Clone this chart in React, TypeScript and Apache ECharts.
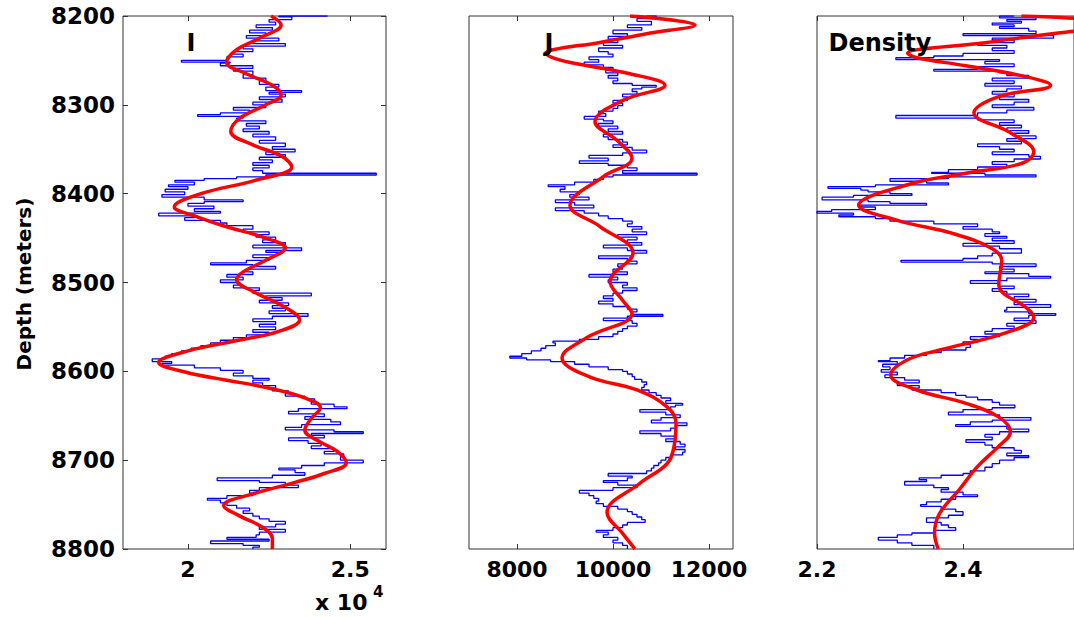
import React, { useEffect, useRef } from "react";
import * as echarts from "echarts";

// ---------- axis ticks ----------
const depthTicks = [8200, 8300, 8400, 8500, 8600, 8700, 8800];
const iTicks = [2, 2.5]; // x 10^4
const jTicks = [8000, 10000, 12000];
const densityTicks = [2.2, 2.4];

const panelTitles = ["I", "J", "Density"];
const depthLabel = "Depth (meters)";

// ---------- data: [depth, value] ----------
// I log (values in units of 10^4)
const iBlue: number[][] = [
  [8200, 2.43], [8201, 2.28], [8204, 2.32], [8207, 2.25], [8210, 2.27], [8213, 2.21], [8216, 2.26],
  [8219, 2.19], [8222, 2.24], [8225, 2.18], [8228, 2.28], [8231, 2.2], [8234, 2.3], [8237, 2.17],
  [8240, 2.2], [8243, 2.14], [8246, 2.17], [8250, 2.12], [8252, 1.98], [8253, 2.13], [8256, 2.1],
  [8259, 2.2], [8262, 2.14], [8266, 2.2], [8270, 2.17], [8273, 2.24], [8277, 2.22], [8280, 2.28],
  [8284, 2.24], [8286, 2.35], [8288, 2.25], [8291, 2.3], [8294, 2.22], [8297, 2.29], [8300, 2.2],
  [8303, 2.24], [8306, 2.14], [8309, 2.19], [8311, 2.1], [8313, 2.03], [8315, 2.17], [8318, 2.15],
  [8321, 2.24], [8324, 2.18], [8327, 2.22], [8330, 2.17], [8333, 2.25], [8336, 2.2], [8340, 2.27],
  [8343, 2.22], [8347, 2.3], [8350, 2.26], [8353, 2.33], [8356, 2.24], [8359, 2.3], [8362, 2.22],
  [8365, 2.26], [8368, 2.2], [8371, 2.25], [8374, 2.2], [8377, 2.23], [8379, 2.58], [8381, 2.24],
  [8383, 2.15], [8385, 2.05], [8387, 1.96], [8390, 2.02], [8392, 1.94], [8395, 2.0], [8398, 1.93],
  [8401, 1.99], [8404, 1.92], [8407, 2.05], [8409, 2.17], [8411, 2.05], [8414, 2.0], [8417, 2.08],
  [8420, 2.02], [8422, 2.1], [8425, 1.91], [8427, 2.02], [8430, 1.99], [8433, 2.1], [8436, 2.12],
  [8440, 2.2], [8443, 2.17], [8446, 2.25], [8449, 2.21], [8452, 2.27], [8455, 2.23], [8458, 2.3],
  [8461, 2.2], [8464, 2.35], [8466, 2.24], [8469, 2.28], [8472, 2.2], [8475, 2.25], [8478, 2.18],
  [8480, 2.07], [8482, 2.2], [8485, 2.27], [8488, 2.18], [8491, 2.2], [8494, 2.12], [8497, 2.17],
  [8500, 2.1], [8503, 2.16], [8506, 2.14], [8509, 2.22], [8512, 2.2], [8515, 2.38], [8517, 2.24],
  [8520, 2.29], [8523, 2.22], [8526, 2.31], [8529, 2.26], [8532, 2.3], [8535, 2.25], [8538, 2.37],
  [8541, 2.26], [8544, 2.2], [8547, 2.27], [8550, 2.22], [8553, 2.27], [8556, 2.2], [8559, 2.25],
  [8562, 2.18], [8565, 2.14], [8568, 2.1], [8571, 2.07], [8574, 2.04], [8577, 2.01], [8580, 1.98],
  [8583, 1.95], [8586, 1.93], [8589, 1.89], [8591, 1.95], [8593, 1.92], [8596, 2.02], [8599, 2.1],
  [8602, 2.17], [8605, 2.14], [8608, 2.2], [8610, 2.25], [8613, 2.2], [8616, 2.23], [8619, 2.27],
  [8622, 2.26], [8625, 2.31], [8628, 2.3], [8631, 2.36], [8634, 2.39], [8637, 2.38], [8640, 2.45],
  [8642, 2.49], [8645, 2.34], [8648, 2.31], [8651, 2.42], [8654, 2.36], [8657, 2.44], [8660, 2.47],
  [8663, 2.35], [8666, 2.3], [8668, 2.45], [8670, 2.54], [8672, 2.38], [8675, 2.42], [8678, 2.31],
  [8681, 2.37], [8684, 2.41], [8687, 2.38], [8690, 2.45], [8693, 2.42], [8696, 2.48], [8700, 2.47],
  [8703, 2.54], [8706, 2.42], [8709, 2.35], [8711, 2.28], [8714, 2.33], [8717, 2.36], [8720, 2.26],
  [8723, 2.09], [8725, 2.22], [8728, 2.3], [8731, 2.34], [8734, 2.22], [8737, 2.19], [8740, 2.2],
  [8743, 2.12], [8745, 2.06], [8748, 2.1], [8751, 2.12], [8754, 2.15], [8757, 2.19], [8760, 2.17],
  [8763, 2.2], [8766, 2.22], [8769, 2.25], [8772, 2.3], [8775, 2.27], [8778, 2.22], [8781, 2.3],
  [8784, 2.22], [8787, 2.21], [8789, 2.12], [8791, 2.25], [8794, 2.07], [8796, 2.17], [8798, 2.22],
  [8800, 2.2],
];
const iRed: number[][] = [
  [8200, 2.256], [8210, 2.287], [8225, 2.22], [8238, 2.15], [8252, 2.119], [8265, 2.18], [8278, 2.26],
  [8289, 2.287], [8300, 2.24], [8315, 2.16], [8330, 2.132], [8345, 2.2], [8358, 2.29], [8370, 2.32],
  [8385, 2.207], [8400, 2.04], [8415, 1.958], [8425, 2.02], [8437, 2.116], [8450, 2.24], [8461, 2.3],
  [8475, 2.24], [8488, 2.17], [8497, 2.15], [8510, 2.2], [8528, 2.3], [8542, 2.344], [8555, 2.28],
  [8565, 2.156], [8577, 2.0], [8590, 1.91], [8601, 1.994], [8610, 2.12], [8618, 2.238], [8630, 2.36],
  [8641, 2.408], [8653, 2.38], [8666, 2.36], [8680, 2.41], [8690, 2.46], [8703, 2.488], [8715, 2.42],
  [8725, 2.33], [8738, 2.2], [8751, 2.11], [8763, 2.16], [8775, 2.227], [8788, 2.26], [8800, 2.26],
];

// J log
const jBlue: number[][] = [
  [8200, 10700], [8203, 10900], [8206, 10500], [8210, 10800], [8213, 10300], [8216, 10600], [8220, 10000],
  [8223, 10300], [8226, 9900], [8230, 10100], [8233, 9800], [8236, 10200], [8240, 9700], [8243, 9900],
  [8246, 10000], [8249, 9500], [8252, 9700], [8255, 9400], [8258, 9800], [8261, 10000], [8264, 9850],
  [8267, 10100], [8270, 9900], [8273, 10100], [8276, 10000], [8278, 10400], [8280, 10900], [8282, 10600],
  [8285, 10400], [8288, 10500], [8291, 10200], [8295, 10300], [8298, 10000], [8301, 10200], [8304, 10100],
  [8307, 10000], [8310, 9700], [8313, 9850], [8316, 9400], [8318, 9800], [8321, 10000], [8324, 9700],
  [8327, 10100], [8330, 9900], [8333, 10200], [8336, 9800], [8339, 9900], [8342, 10200], [8345, 10300],
  [8348, 10000], [8351, 10400], [8354, 10700], [8357, 10200], [8360, 9500], [8363, 9900], [8366, 9300],
  [8368, 9900], [8371, 10300], [8374, 10500], [8377, 10200], [8379, 11750], [8381, 10000], [8384, 9800],
  [8387, 9600], [8390, 9200], [8392, 8650], [8395, 9000], [8398, 8900], [8401, 9300], [8404, 9100],
  [8407, 9500], [8410, 8800], [8413, 9200], [8416, 9600], [8419, 8800], [8422, 9400], [8425, 9700],
  [8428, 9900], [8431, 10200], [8434, 10400], [8437, 10300], [8440, 10600], [8443, 10400], [8446, 10700],
  [8449, 10100], [8452, 10500], [8455, 10300], [8458, 10600], [8461, 9800], [8464, 10300], [8467, 10700],
  [8470, 10400], [8473, 9700], [8476, 10300], [8479, 10500], [8482, 10100], [8485, 10200], [8488, 10000],
  [8491, 10300], [8494, 9500], [8497, 10100], [8500, 9900], [8503, 10300], [8506, 10200], [8509, 10500],
  [8512, 10200], [8515, 10000], [8518, 9800], [8521, 10000], [8524, 9700], [8527, 10000], [8530, 10300],
  [8533, 10500], [8536, 10400], [8538, 11040], [8540, 10300], [8543, 9800], [8546, 10400], [8549, 10500],
  [8552, 10300], [8555, 10200], [8558, 10100], [8561, 10000], [8564, 9700], [8566, 9300], [8568, 8750],
  [8571, 8800], [8574, 8600], [8577, 8500], [8580, 8300], [8583, 8100], [8585, 7850], [8587, 8200],
  [8589, 8700], [8592, 9200], [8595, 9500], [8598, 9900], [8600, 10200], [8603, 10300], [8606, 10400],
  [8609, 10450], [8612, 10600], [8615, 10700], [8618, 10650], [8621, 10600], [8624, 10750], [8627, 10900],
  [8630, 11000], [8633, 11200], [8636, 11100], [8638, 11450], [8640, 11300], [8643, 11200], [8646, 10560],
  [8649, 11100], [8652, 11400], [8655, 11000], [8658, 10800], [8661, 11540], [8664, 11300], [8667, 11200],
  [8670, 10560], [8673, 11000], [8676, 11300], [8679, 11100], [8682, 11400], [8685, 11500], [8688, 11300],
  [8691, 11500], [8694, 11450], [8697, 11200], [8700, 11100], [8703, 11000], [8706, 10950], [8709, 10850],
  [8712, 10800], [8715, 10700], [8718, 9900], [8720, 10400], [8723, 10300], [8725, 9800], [8728, 10100],
  [8731, 10500], [8734, 10000], [8737, 9300], [8740, 9500], [8743, 9600], [8746, 9700], [8749, 9650],
  [8752, 9800], [8755, 10100], [8758, 10300], [8761, 10400], [8764, 10500], [8767, 10600], [8770, 10670],
  [8773, 10300], [8776, 10200], [8779, 10000], [8781, 9650], [8784, 9900], [8787, 9800], [8790, 10100],
  [8793, 10000], [8796, 10200], [8800, 10300],
];
const jRed: number[][] = [
  [8200, 10354], [8210, 11708], [8220, 10700], [8230, 9700], [8238, 8750], [8242, 8600], [8248, 8800],
  [8253, 9167], [8265, 10354], [8278, 11083], [8295, 10208], [8319, 9625], [8340, 10083], [8360, 10396],
  [8381, 9792], [8413, 9104], [8437, 9729], [8467, 10417], [8499, 9938], [8520, 10200], [8535, 10396],
  [8562, 9458], [8585, 8938], [8606, 9500], [8621, 10500], [8640, 11125], [8658, 11313], [8685, 11270],
  [8704, 11125], [8726, 10562], [8759, 9875], [8783, 10208], [8800, 10458],
];

// Density log
const densityBlue: number[][] = [
  [8200, 2.47], [8202, 2.45], [8204, 2.5], [8206, 2.46], [8208, 2.48], [8210, 2.44], [8212, 2.47],
  [8214, 2.45], [8217, 2.49], [8220, 2.5], [8222, 2.4], [8225, 2.524], [8227, 2.44], [8230, 2.47],
  [8233, 2.42], [8236, 2.46], [8239, 2.44], [8242, 2.47], [8245, 2.4], [8247, 2.36], [8249, 2.308],
  [8251, 2.45], [8254, 2.43], [8257, 2.47], [8260, 2.42], [8262, 2.36], [8264, 2.45], [8267, 2.46],
  [8270, 2.49], [8273, 2.44], [8276, 2.47], [8279, 2.43], [8282, 2.48], [8285, 2.46], [8288, 2.44],
  [8291, 2.47], [8294, 2.45], [8297, 2.49], [8300, 2.47], [8303, 2.44], [8306, 2.497], [8309, 2.46],
  [8312, 2.42], [8315, 2.308], [8317, 2.42], [8320, 2.47], [8323, 2.45], [8326, 2.48], [8329, 2.46],
  [8332, 2.49], [8335, 2.47], [8338, 2.5], [8341, 2.46], [8344, 2.48], [8347, 2.42], [8350, 2.45],
  [8353, 2.47], [8356, 2.44], [8358, 2.49], [8361, 2.506], [8364, 2.47], [8367, 2.44], [8370, 2.46],
  [8373, 2.42], [8376, 2.38], [8377, 2.357], [8379, 2.43], [8381, 2.5], [8383, 2.38], [8386, 2.3],
  [8388, 2.35], [8390, 2.38], [8392, 2.28], [8394, 2.215], [8396, 2.26], [8398, 2.27], [8400, 2.3],
  [8402, 2.33], [8404, 2.25], [8407, 2.207], [8409, 2.27], [8411, 2.3], [8413, 2.35], [8415, 2.26],
  [8418, 2.28], [8420, 2.22], [8422, 2.2], [8424, 2.25], [8426, 2.23], [8428, 2.28], [8431, 2.3],
  [8434, 2.36], [8437, 2.42], [8440, 2.4], [8443, 2.44], [8445, 2.45], [8448, 2.43], [8450, 2.46],
  [8453, 2.44], [8456, 2.47], [8459, 2.4], [8462, 2.45], [8465, 2.48], [8467, 2.48], [8470, 2.44],
  [8473, 2.42], [8475, 2.4], [8477, 2.315], [8479, 2.44], [8482, 2.5], [8485, 2.45], [8488, 2.47],
  [8490, 2.43], [8493, 2.49], [8495, 2.52], [8498, 2.46], [8501, 2.41], [8504, 2.45], [8507, 2.47],
  [8510, 2.44], [8513, 2.46], [8516, 2.49], [8519, 2.47], [8522, 2.5], [8525, 2.47], [8528, 2.52],
  [8531, 2.46], [8533, 2.457], [8535, 2.49], [8537, 2.527], [8540, 2.49], [8543, 2.47], [8546, 2.5],
  [8549, 2.46], [8552, 2.47], [8555, 2.44], [8558, 2.43], [8561, 2.45], [8564, 2.41], [8567, 2.42],
  [8570, 2.4], [8573, 2.41], [8576, 2.404], [8579, 2.37], [8582, 2.35], [8585, 2.32], [8588, 2.3],
  [8589, 2.284], [8592, 2.31], [8595, 2.29], [8598, 2.3], [8601, 2.288], [8604, 2.31], [8607, 2.293],
  [8610, 2.32], [8613, 2.34], [8616, 2.31], [8619, 2.34], [8621, 2.33], [8624, 2.37], [8627, 2.39],
  [8629, 2.404], [8632, 2.42], [8635, 2.44], [8638, 2.45], [8641, 2.471], [8643, 2.44], [8646, 2.4],
  [8649, 2.38], [8652, 2.45], [8655, 2.493], [8657, 2.44], [8660, 2.41], [8662, 2.39], [8665, 2.46],
  [8668, 2.49], [8671, 2.45], [8674, 2.43], [8677, 2.44], [8680, 2.404], [8683, 2.43], [8686, 2.44],
  [8689, 2.47], [8692, 2.48], [8695, 2.46], [8697, 2.49], [8700, 2.47], [8704, 2.45], [8708, 2.44],
  [8712, 2.43], [8715, 2.41], [8717, 2.4], [8720, 2.37], [8722, 2.34], [8724, 2.35], [8726, 2.32],
  [8728, 2.32], [8731, 2.36], [8733, 2.38], [8736, 2.37], [8739, 2.4], [8741, 2.42], [8744, 2.39],
  [8747, 2.37], [8750, 2.35], [8752, 2.342], [8755, 2.37], [8758, 2.39], [8762, 2.4], [8765, 2.38],
  [8768, 2.35], [8770, 2.35], [8773, 2.37], [8776, 2.38], [8779, 2.39], [8782, 2.36], [8784, 2.33],
  [8787, 2.31], [8790, 2.284], [8793, 2.31], [8796, 2.33], [8800, 2.36],
];
const densityRed: number[][] = [
  [8200, 2.48], [8201, 2.52], [8203, 2.56], [8209, 2.66], [8214, 2.6], [8218, 2.543], [8230, 2.43],
  [8242, 2.324], [8247, 2.337], [8256, 2.404], [8268, 2.484], [8278, 2.52], [8291, 2.448], [8309, 2.415],
  [8332, 2.466], [8353, 2.497], [8366, 2.48], [8377, 2.404], [8390, 2.324], [8413, 2.257], [8430, 2.31],
  [8445, 2.387], [8462, 2.44], [8475, 2.453], [8502, 2.449], [8530, 2.489], [8539, 2.497], [8557, 2.457],
  [8576, 2.368], [8587, 2.324], [8604, 2.301], [8621, 2.337], [8636, 2.404], [8651, 2.448], [8668, 2.465],
  [8685, 2.448], [8707, 2.42], [8733, 2.395], [8760, 2.368], [8782, 2.361], [8800, 2.366],
];

const FONT = '"DejaVu Sans", "Liberation Sans", sans-serif';
const toXY = (rows: number[][]) => rows.map((r) => [r[1], r[0]]);

export default function App() {
  const ref = useRef<HTMLDivElement>(null);

  useEffect(() => {
    if (!ref.current) return;
    const chart = echarts.init(ref.current, undefined, { renderer: "svg" });

    const grids = [
      { left: 123, top: 16, width: 263, height: 533 },
      { left: 469, top: 16, width: 264, height: 533 },
      { left: 817, top: 16, width: 264, height: 533 },
    ].map((g) => ({
      ...g,
      show: true,
      borderColor: "#333",
      borderWidth: 1,
      backgroundColor: "transparent",
      containLabel: false,
    }));

    const xRanges = [
      { min: 1.8, max: 2.61, ticks: iTicks },
      { min: 7000, max: 12500, ticks: jTicks },
      { min: 2.2, max: 2.552, ticks: densityTicks },
    ];

    const xAxes: any[] = [];
    xRanges.forEach((r, gi) => {
      xAxes.push({
        type: "value",
        gridIndex: gi,
        position: "bottom",
        min: r.min,
        max: r.max,
        axisLine: { show: false },
        splitLine: { show: false },
        axisTick: { show: true, inside: true, length: 5, customValues: r.ticks, lineStyle: { color: "#333" } },
        axisLabel: {
          show: true,
          customValues: r.ticks,
          margin: 9,
          fontFamily: FONT,
          fontWeight: "bold",
          fontSize: 22,
          color: "#000",
          formatter: (v: number) => String(v),
        },
      });
      xAxes.push({
        type: "value",
        gridIndex: gi,
        position: "top",
        min: r.min,
        max: r.max,
        axisLine: { show: false },
        splitLine: { show: false },
        axisTick: { show: true, inside: true, length: 5, customValues: r.ticks, lineStyle: { color: "#333" } },
        axisLabel: { show: false },
      });
    });

    const yBase = {
      type: "value",
      inverse: true,
      min: 8200,
      max: 8800,
      interval: 100,
      axisLine: { show: false },
      splitLine: { show: false },
    };
    const yAxes: any[] = [
      {
        ...yBase,
        gridIndex: 0,
        position: "left",
        axisTick: { show: true, inside: true, length: 5, customValues: depthTicks, lineStyle: { color: "#333" } },
        axisLabel: {
          show: true,
          customValues: depthTicks,
          margin: 8,
          fontFamily: FONT,
          fontWeight: "bold",
          fontSize: 23,
          color: "#000",
          formatter: (v: number) => String(v),
        },
      },
      { ...yBase, gridIndex: 1, position: "left", axisTick: { show: false }, axisLabel: { show: false } },
      { ...yBase, gridIndex: 2, position: "left", axisTick: { show: false }, axisLabel: { show: false } },
      {
        ...yBase,
        gridIndex: 0,
        position: "right",
        axisTick: { show: true, inside: true, length: 5, customValues: depthTicks, lineStyle: { color: "#333" } },
        axisLabel: { show: false },
      },
    ];

    const panels = [
      { blue: iBlue, red: iRed },
      { blue: jBlue, red: jRed },
      { blue: densityBlue, red: densityRed },
    ];
    const series: any[] = [];
    panels.forEach((p, gi) => {
      series.push({
        type: "line",
        xAxisIndex: gi * 2,
        yAxisIndex: gi,
        data: toXY(p.blue),
        showSymbol: false,
        step: "end",
        lineStyle: { color: "#0000ff", width: 1.3 },
        z: 2,
      });
      series.push({
        type: "line",
        xAxisIndex: gi * 2,
        yAxisIndex: gi,
        data: toXY(p.red),
        showSymbol: false,
        smooth: 0.4,
        lineStyle: { color: "#ff0000", width: 3.5 },
        z: 3,
      });
    });

    const titleFont = `bold 24px ${FONT}`;
    const graphic: any[] = [
      { type: "text", x: 191, y: 43, style: { text: panelTitles[0], font: titleFont, fill: "#000", align: "center", verticalAlign: "middle" }, z: 10 },
      { type: "text", x: 549, y: 43, style: { text: panelTitles[1], font: titleFont, fill: "#000", align: "center", verticalAlign: "middle" }, z: 10 },
      { type: "text", x: 880, y: 43, style: { text: panelTitles[2], font: titleFont, fill: "#000", align: "center", verticalAlign: "middle" }, z: 10 },
      {
        type: "text",
        x: 24,
        y: 284,
        rotation: Math.PI / 2,
        style: { text: depthLabel, font: `bold 20px ${FONT}`, fill: "#000", align: "center", verticalAlign: "middle" },
      },
      { type: "text", x: 315, y: 602, style: { text: "x 10", font: `bold 22px ${FONT}`, fill: "#000", align: "left", verticalAlign: "middle" } },
      { type: "text", x: 373, y: 592, style: { text: "4", font: `bold 15px ${FONT}`, fill: "#000", align: "left", verticalAlign: "middle" } },
    ];

    chart.setOption({
      animation: false,
      backgroundColor: "#fff",
      grid: grids,
      xAxis: xAxes,
      yAxis: yAxes,
      series,
      graphic,
    });

    return () => chart.dispose();
  }, []);

  return (
    <div
      ref={ref}
      style={{ position: "absolute", left: 0, top: 0, width: 1074, height: 617, background: "#fff" }}
    />
  );
}
